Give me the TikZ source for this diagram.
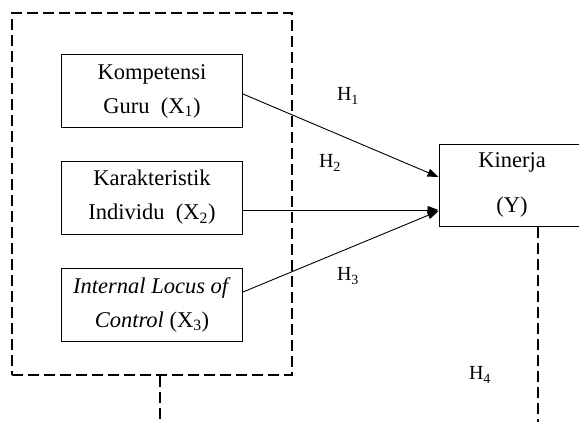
\documentclass[tikz,border=0pt]{standalone}
\usepackage{fontspec}
\setmainfont{Liberation Serif}
\usetikzlibrary{arrows.meta,calc}
\tikzset{
  varbox/.style={draw, line width=1pt, minimum width=181pt, minimum height=73pt, align=center, inner sep=0pt,
    font=\fontsize{22.5}{34}\selectfont},
  grpbox/.style={draw, line width=1.3pt, dash pattern=on 11pt off 5pt, minimum width=280pt, minimum height=362pt, inner sep=0pt},
  dashln/.style={line width=1.3pt, dash pattern=on 11pt off 5pt},
  arr/.style={line width=0.9pt, -{Triangle[length=11pt,width=8pt]}},
  hlab/.style={font=\fontsize{20}{22}\selectfont, inner sep=0pt}
}
\begin{document}
\begin{tikzpicture}[x=1pt,y=-1pt]
\useasboundingbox (0,0) rectangle (579,421);
\clip (0,0) rectangle (579,421);
\node[grpbox] (grp) at (152,194) {};
\node[varbox] (b1) at (152,91) {Kompetensi\\Guru\ \ (X\textsubscript{1})};
\node[varbox] (b2) at (152,197.5) {Karakteristik\\Individu\ \ (X\textsubscript{2})};
\node[varbox] (b3) at (152,304.5) {\textit{Internal Locus of}\\\textit{Control} (X\textsubscript{3})};
\node[varbox, minimum width=146pt, minimum height=82pt, font=\fontsize{22.5}{45}\selectfont] (ky) at (512,185) {Kinerja\\(Y)};
\draw[arr] ($(b1.east)+(0,3)$) -- ($(ky.west)+(0,-8)$);
\draw[arr] ($(b2.east)+(0,12.5)$) -- ($(ky.west)+(0,25)$);
\draw[arr] ($(b3.east)+(0,-12.5)$) -- ($(ky.west)+(0,26)$);
\node[hlab] (h1) at (348,96) {H\textsubscript{1}};
\node[hlab] (h2) at (330,163) {H\textsubscript{2}};
\node[hlab] (h3) at (348,276) {H\textsubscript{3}};
\node[hlab] (h4) at (480,375) {H\textsubscript{4}};
\coordinate (gend) at (160,430);
\coordinate (kend) at (538,430);
\draw[dashln] ($(grp.south)+(8,0)$) -- (gend);
\draw[dashln] (ky.south -| kend) -- (kend);
\end{tikzpicture}
\end{document}
